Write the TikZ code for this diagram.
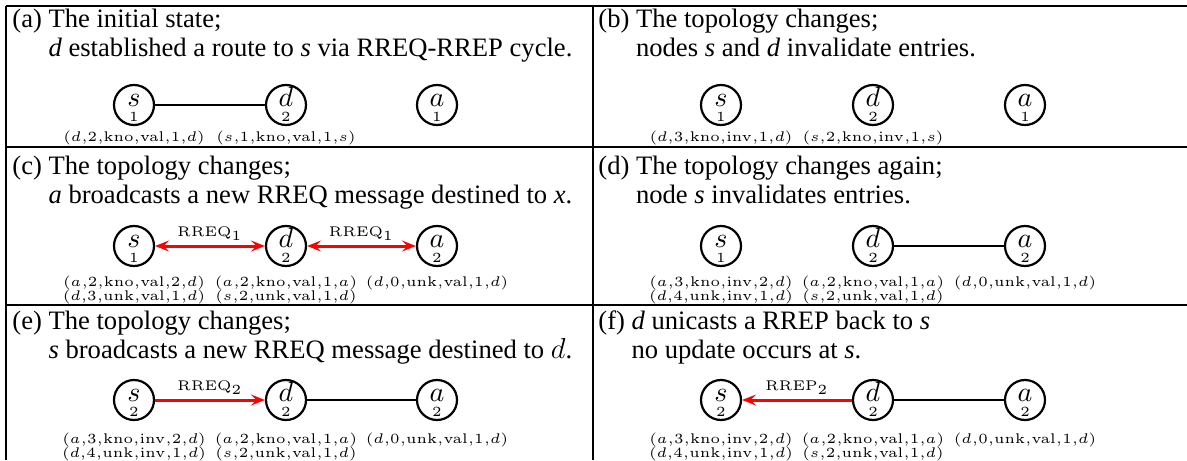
\documentclass[tikz,border=0pt]{standalone}
\usepackage[no-math]{fontspec}
\setmainfont{Liberation Serif}
\usepackage{graphicx}
\usetikzlibrary{arrows.meta,calc}
\newcommand\sm[1]{\scalebox{1.4}{\fontsize{5}{6}\selectfont #1}}
\tikzset{
  frm/.style={line width=1pt},
  nd/.style={circle, draw, line width=1.1pt, minimum size=20pt, inner sep=0pt},
  ltr/.style={anchor=base, inner sep=0pt},
  numtxt/.style={anchor=base, inner sep=0pt},
  linkline/.style={line width=1pt},
  msg/.style={red, line width=1.5pt},
  >={Stealth[length=7pt,width=5.5pt,inset=2.8pt]},
  tup/.style={anchor=base, inner sep=0pt},
  lbl/.style={anchor=base, inner sep=0pt},
  captxt/.style={anchor=base west, inner sep=0pt, font=\fontsize{13.3}{14.5}\selectfont}
}
\newcommand\mynode[5]{%
  \node[nd] (#1) at (#2,#3) {};
  \node[ltr] (#1-l) at ($(#1.center)+(0,1)$) {\scalebox{1.4}{$#4$}};
  \node[numtxt] (#1-n) at ($(#1.center)+(0,16)$) {\sm{$#5$}};
}
\newcommand\tp[6]{\sm{$(#1{,}#2{,}\mathrm{#3}{,}\mathrm{#4}{,}#5{,}#6)$}}
\begin{document}
\begin{tikzpicture}[x=0.5pt,y=-0.5pt]
\useasboundingbox (0,0) rectangle (1187,460);
\clip (0,0) rectangle (1187,460);
% frame
\draw[frm] (6,6) -- (1187,6);
\draw[frm] (6,147) -- (1187,147);
\draw[frm] (6,305) -- (1187,305);
\draw[frm] (6,6) -- (6,460);
\draw[frm] (593,6) -- (593,460);

% captions
\node[captxt] (capA) at (12,28) {\begin{tabular}[t]{@{}l@{ }l@{}}(a)&The initial state;\\&\textit{d} established a route to \textit{s} via RREQ-RREP cycle.\end{tabular}};
\node[captxt] (capB) at (598,28) {\begin{tabular}[t]{@{}l@{ }l@{}}(b)&The topology changes;\\&nodes \textit{s} and \textit{d} invalidate entries.\end{tabular}};
\node[captxt] (capC) at (12,174) {\begin{tabular}[t]{@{}l@{ }l@{}}(c)&The topology changes;\\&\textit{a} broadcasts a new RREQ message destined to \textit{x}.\end{tabular}};
\node[captxt] (capD) at (598,174) {\begin{tabular}[t]{@{}l@{ }l@{}}(d)&The topology changes again;\\&node \textit{s} invalidates entries.\end{tabular}};
\node[captxt] (capE) at (12,329) {\begin{tabular}[t]{@{}l@{ }l@{}}(e)&The topology changes;\\&\textit{s} broadcasts a new RREQ message destined to $d$.\end{tabular}};
\node[captxt] (capF) at (598,329) {\begin{tabular}[t]{@{}l@{ }l@{}}(f)&\textit{d} unicasts a RREP back to \textit{s}\\&no update occurs at \textit{s}.\end{tabular}};

% (a)
\mynode{sA}{134}{105}{s}{1}
\mynode{dA}{286}{105}{d}{2}
\mynode{aA}{437}{105}{a}{1}
\draw[linkline] (sA) -- (dA);
\node[tup] (tA1) at (134,141) {\tp{d}{2}{kno}{val}{1}{d}};
\node[tup] (tA2) at (286,141) {\tp{s}{1}{kno}{val}{1}{s}};

% (b)
\mynode{sB}{721}{105}{s}{1}
\mynode{dB}{873}{105}{d}{2}
\mynode{aB}{1025}{105}{a}{1}
\node[tup] (tB1) at (721,141) {\tp{d}{3}{kno}{inv}{1}{d}};
\node[tup] (tB2) at (873,141) {\tp{s}{2}{kno}{inv}{1}{s}};

% (c)
\mynode{sC}{134}{246}{s}{1}
\mynode{dC}{286}{246}{d}{2}
\mynode{aC}{437}{246}{a}{2}
\draw[msg, <->] (sC) -- (dC);
\draw[msg, <->] (dC) -- (aC);
\node[lbl] (lC1) at ($(sC)!0.5!(dC)+(0,-10)$) {\sm{$\mathrm{RREQ}_1$}};
\node[lbl] (lC2) at ($(dC)!0.5!(aC)+(0,-10)$) {\sm{$\mathrm{RREQ}_1$}};
\node[tup] (tC1) at (134,286) {\tp{a}{2}{kno}{val}{2}{d}};
\node[tup] (tC2) at (134,300) {\tp{d}{3}{unk}{val}{1}{d}};
\node[tup] (tC3) at (286,286) {\tp{a}{2}{kno}{val}{1}{a}};
\node[tup] (tC4) at (286,300) {\tp{s}{2}{unk}{val}{1}{d}};
\node[tup] (tC5) at (437,286) {\tp{d}{0}{unk}{val}{1}{d}};

% (d)
\mynode{sD}{721}{246}{s}{1}
\mynode{dD}{873}{246}{d}{2}
\mynode{aD}{1025}{246}{a}{2}
\draw[linkline] (dD) -- (aD);
\node[tup] (tD1) at (721,286) {\tp{a}{3}{kno}{inv}{2}{d}};
\node[tup] (tD2) at (721,300) {\tp{d}{4}{unk}{inv}{1}{d}};
\node[tup] (tD3) at (873,286) {\tp{a}{2}{kno}{val}{1}{a}};
\node[tup] (tD4) at (873,300) {\tp{s}{2}{unk}{val}{1}{d}};
\node[tup] (tD5) at (1025,286) {\tp{d}{0}{unk}{val}{1}{d}};

% (e)
\mynode{sE}{134}{400}{s}{2}
\mynode{dE}{286}{400}{d}{2}
\mynode{aE}{437}{400}{a}{2}
\draw[msg, ->] (sE) -- (dE);
\draw[linkline] (dE) -- (aE);
\node[lbl] (lE1) at ($(sE)!0.5!(dE)+(0,-10)$) {\sm{$\mathrm{RREQ}_2$}};
\node[tup] (tE1) at (134,443) {\tp{a}{3}{kno}{inv}{2}{d}};
\node[tup] (tE2) at (134,457) {\tp{d}{4}{unk}{inv}{1}{d}};
\node[tup] (tE3) at (286,443) {\tp{a}{2}{kno}{val}{1}{a}};
\node[tup] (tE4) at (286,457) {\tp{s}{2}{unk}{val}{1}{d}};
\node[tup] (tE5) at (437,443) {\tp{d}{0}{unk}{val}{1}{d}};

% (f)
\mynode{sF}{721}{400}{s}{2}
\mynode{dF}{873}{400}{d}{2}
\mynode{aF}{1025}{400}{a}{2}
\draw[msg, ->] (dF) -- (sF);
\draw[linkline] (dF) -- (aF);
\node[lbl] (lF1) at ($(sF)!0.5!(dF)+(0,-10)$) {\sm{$\mathrm{RREP}_2$}};
\node[tup] (tF1) at (721,443) {\tp{a}{3}{kno}{inv}{2}{d}};
\node[tup] (tF2) at (721,457) {\tp{d}{4}{unk}{inv}{1}{d}};
\node[tup] (tF3) at (873,443) {\tp{a}{2}{kno}{val}{1}{a}};
\node[tup] (tF4) at (873,457) {\tp{s}{2}{unk}{val}{1}{d}};
\node[tup] (tF5) at (1025,443) {\tp{d}{0}{unk}{val}{1}{d}};
\end{tikzpicture}
\end{document}
